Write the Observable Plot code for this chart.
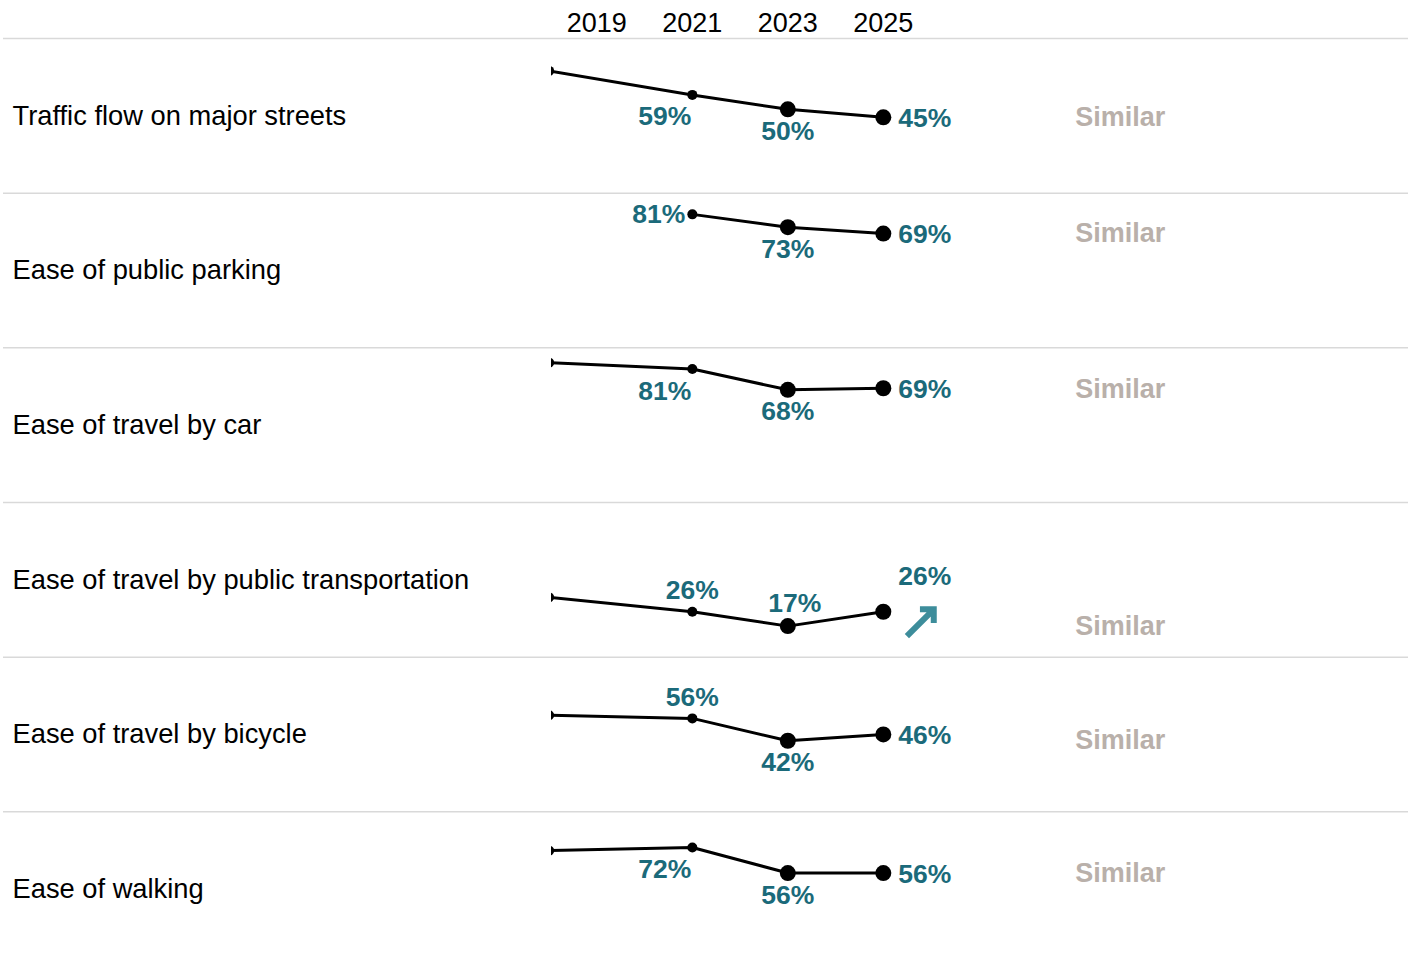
<!DOCTYPE html>
<html>
<head>
<meta charset="utf-8">
<script src="https://cdn.jsdelivr.net/npm/d3@7"></script>
<script src="https://cdn.jsdelivr.net/npm/@observablehq/plot@0.6"></script>
<style>
  html, body { margin: 0; padding: 0; background: #fff; overflow: hidden; }
  #chart svg { display: block; }
</style>
</head>
<body>
<div id="chart"></div>
<script>
// ---- data ----
const categories = [
  "Traffic flow on major streets",
  "Ease of public parking",
  "Ease of travel by car",
  "Ease of travel by public transportation",
  "Ease of travel by bicycle",
  "Ease of walking"
];
const years = [2018, 2021, 2023, 2025];
const tickYears = [2019, 2021, 2023, 2025];
const traffic = [74, 59, 50, 45];
const parking = [null, 81, 73, 69];
const car = [85, 81, 68, 69];
const transit = [35, 26, 17, 26];
const bicycle = [58, 56, 42, 46];
const walking = [70, 72, 56, 56];
const comparisons = ["Similar", "Similar", "Similar", "Similar", "Similar", "Similar"];
const trends = [null, null, null, "up", null, null];

// ---- label placement (style) ----
const placements = [
  [null, "bl", "b", "r"],
  [null, "l", "b", "r"],
  [null, "bl", "b", "r"],
  [null, "a", "ar", "ur"],
  [null, "a", "b", "r"],
  [null, "bl", "b", "r"]
];
const placeStyle = {
  r:  {textAnchor: "start",  dx: 15, dy: 1},
  b:  {textAnchor: "middle", dx: 0,  dy: 22},
  bl: {textAnchor: "end",    dx: -1, dy: 22},
  l:  {textAnchor: "end",    dx: -7, dy: 0},
  a:  {textAnchor: "middle", dx: 0,  dy: -21},
  ar: {textAnchor: "middle", dx: 7,  dy: -23},
  ur: {textAnchor: "start",  dx: 15, dy: -35}
};

const rows = [traffic, parking, car, transit, bicycle, walking];
const points = categories.flatMap((c, i) =>
  years.map((yr, j) => ({category: c, year: yr, value: rows[i][j], place: placements[i][j]}))
).filter(d => d.value != null);

const summaries = categories.map((c, i) => ({
  category: c,
  year: d3.max(years),
  value: d3.min(rows[i].filter(v => v != null)),
  text: comparisons[i]
}));
const trendMarks = categories.map((c, i) => ({
  category: c,
  year: d3.max(years),
  value: rows[i][rows[i].length - 1],
  trend: trends[i]
})).filter(d => d.trend === "up");

const yDomain = [-2.4, 94.25];
const teal = "#1b6a7a";
const font = "'Liberation Sans', Arial, sans-serif";

const labelMarks = Object.entries(placeStyle).map(([key, s]) =>
  Plot.text(points.filter(d => d.place === key), {
    x: "year", y: "value", fy: "category",
    text: d => `${d.value}%`,
    textAnchor: s.textAnchor, dx: s.dx, dy: s.dy,
    fill: teal, fontWeight: "bold", fontSize: 26.5, fontFamily: font
  })
);

const chart = Plot.plot({
  width: 1413,
  height: 966,
  marginTop: 38,
  marginBottom: 0,
  marginLeft: 551,
  marginRight: 5,
  style: {fontFamily: font, fontSize: "27px", background: "#fff", color: "#000"},
  x: {
    domain: [2018.05, 2036],
    axis: "top",
    ticks: tickYears,
    tickFormat: "d",
    tickSize: 0,
    tickPadding: 7,
    label: null
  },
  y: {domain: yDomain, axis: null},
  fy: {domain: categories, axis: null, padding: 0, round: false, label: null},
  marks: [
    Plot.ruleY([yDomain[1]], {insetLeft: -548, stroke: "#d9d9d9", strokeWidth: 1.5}),
    Plot.line(points, {x: "year", y: "value", fy: "category", stroke: "#000", strokeWidth: 3, clip: true}),
    Plot.dot(points.filter(d => d.year < 2023), {x: "year", y: "value", fy: "category", r: 5, fill: "#000", clip: true}),
    Plot.dot(points.filter(d => d.year >= 2023), {x: "year", y: "value", fy: "category", r: 8, fill: "#000", clip: true}),
    ...labelMarks,
    Plot.vector(trendMarks, {
      x: "year", y: "value", fy: "category",
      length: 38, rotate: 45, anchor: "middle", shape: "arrow", r: 4.5,
      dx: 37, dy: 11, stroke: "#3d8d9b", strokeWidth: 6,
      strokeLinecap: "butt", strokeLinejoin: "miter"
    }),
    Plot.text(summaries, {
      x: "year", y: "value", fy: "category", text: "text",
      textAnchor: "start", dx: 192, dy: 0,
      fill: "#b9b0aa", fontWeight: "bold", fontSize: 27, fontFamily: font
    }),
    Plot.text(categories, {
      fy: d => d, text: d => d,
      frameAnchor: "left", textAnchor: "start", dx: -539,
      fill: "#000", fontSize: 27.3, fontFamily: font
    })
  ]
});
document.getElementById("chart").appendChild(chart);
</script>
</body>
</html>
